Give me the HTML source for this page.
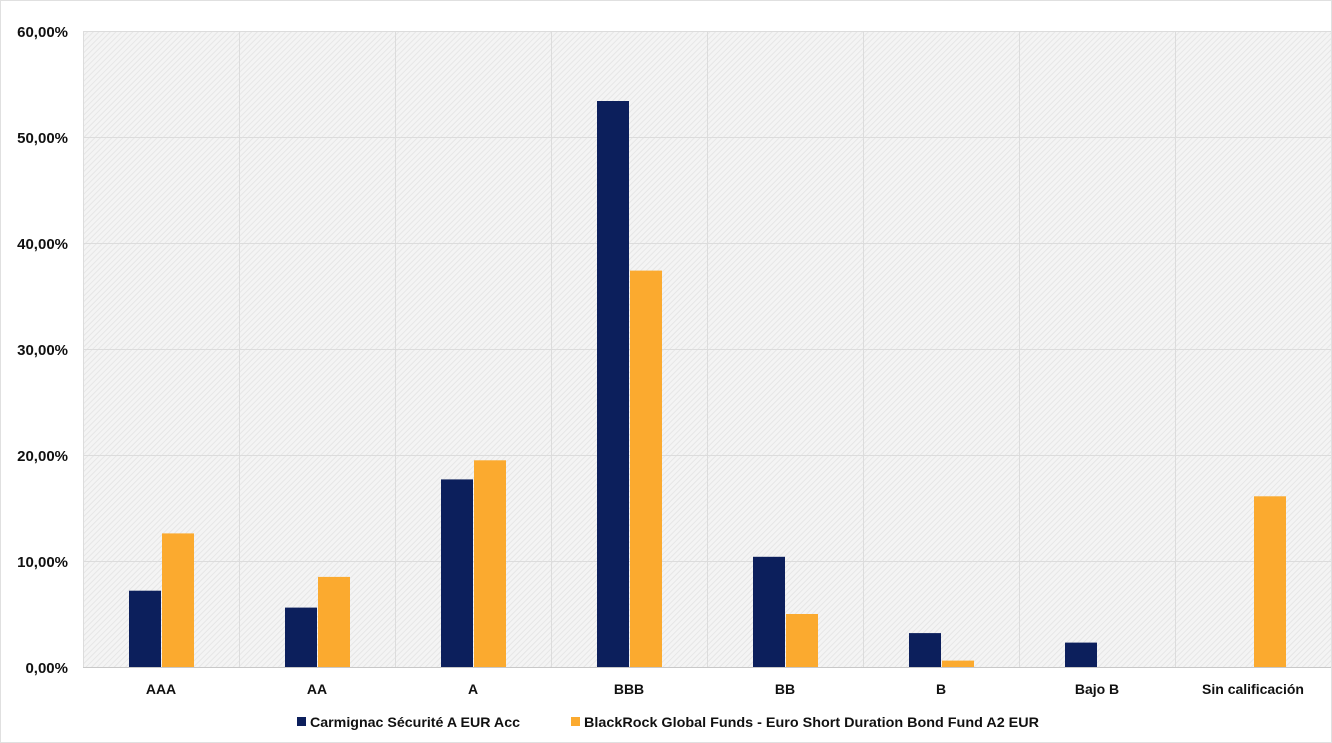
<!DOCTYPE html>
<html><head><meta charset="utf-8"><style>
body{margin:0;background:#fff;}
svg{display:block;font-family:"Liberation Sans",sans-serif;}
</style></head><body>
<svg width="1332" height="743" viewBox="0 0 1332 743">
<defs>
<pattern id="h" width="4" height="4" patternUnits="userSpaceOnUse" patternTransform="rotate(45)">
<rect width="4" height="4" fill="#f4f4f4"/><rect width="1" height="4" fill="#e6e6e6"/>
</pattern>
</defs>
<rect x="0.5" y="0.5" width="1331" height="742" fill="#fff" stroke="#e0e0e0"/>
<rect x="83" y="31" width="1248" height="636" fill="url(#h)"/>
<g stroke="#dcdcdc" stroke-width="1">
<line x1="83" y1="31.5" x2="1331" y2="31.5"/>
<line x1="83" y1="137.5" x2="1331" y2="137.5"/>
<line x1="83" y1="243.5" x2="1331" y2="243.5"/>
<line x1="83" y1="349.5" x2="1331" y2="349.5"/>
<line x1="83" y1="455.5" x2="1331" y2="455.5"/>
<line x1="83" y1="561.5" x2="1331" y2="561.5"/>
<line x1="83.5" y1="31" x2="83.5" y2="667"/>
<line x1="239.5" y1="31" x2="239.5" y2="667"/>
<line x1="395.5" y1="31" x2="395.5" y2="667"/>
<line x1="551.5" y1="31" x2="551.5" y2="667"/>
<line x1="707.5" y1="31" x2="707.5" y2="667"/>
<line x1="863.5" y1="31" x2="863.5" y2="667"/>
<line x1="1019.5" y1="31" x2="1019.5" y2="667"/>
<line x1="1175.5" y1="31" x2="1175.5" y2="667"/>
</g>
<line x1="83" y1="667.5" x2="1331" y2="667.5" stroke="#c8c8c8"/>
<g fill="#0c1f5c">
<rect x="129" y="590.7" width="32" height="76.3"/>
<rect x="285" y="607.6" width="32" height="59.4"/>
<rect x="441" y="479.4" width="32" height="187.6"/>
<rect x="597" y="101" width="32" height="566"/>
<rect x="753" y="556.8" width="32" height="110.2"/>
<rect x="909" y="633.1" width="32" height="33.9"/>
<rect x="1065" y="642.6" width="32" height="24.4"/>
</g>
<g fill="#fbaa2f">
<rect x="162" y="533.4" width="32" height="133.6"/>
<rect x="318" y="576.9" width="32" height="90.1"/>
<rect x="474" y="460.3" width="32" height="206.7"/>
<rect x="630" y="270.6" width="32" height="396.4"/>
<rect x="786" y="614" width="32" height="53"/>
<rect x="942" y="660.6" width="32" height="6.4"/>
<rect x="1254" y="496.3" width="32" height="170.7"/>
</g>
<g font-size="15" font-weight="bold" fill="#111" text-anchor="end">
<text x="68" y="37">60,00%</text>
<text x="68" y="143">50,00%</text>
<text x="68" y="249">40,00%</text>
<text x="68" y="355">30,00%</text>
<text x="68" y="461">20,00%</text>
<text x="68" y="567">10,00%</text>
<text x="68" y="673">0,00%</text>
</g>
<g font-size="14" font-weight="bold" fill="#111" text-anchor="middle">
<text x="161" y="694">AAA</text>
<text x="317" y="694">AA</text>
<text x="473" y="694">A</text>
<text x="629" y="694">BBB</text>
<text x="785" y="694">BB</text>
<text x="941" y="694">B</text>
<text x="1097" y="694">Bajo B</text>
<text x="1253" y="694">Sin calificación</text>
</g>
<rect x="297" y="717" width="9" height="9" fill="#0c1f5c"/>
<text x="310" y="727" font-size="14" font-weight="bold" fill="#111" textLength="210" lengthAdjust="spacingAndGlyphs">Carmignac Sécurité A EUR Acc</text>
<rect x="571" y="717" width="9" height="9" fill="#fbaa2f"/>
<text x="584" y="727" font-size="14" font-weight="bold" fill="#111" textLength="455" lengthAdjust="spacingAndGlyphs">BlackRock Global Funds - Euro Short Duration Bond Fund A2 EUR</text>
</svg>
</body></html>
